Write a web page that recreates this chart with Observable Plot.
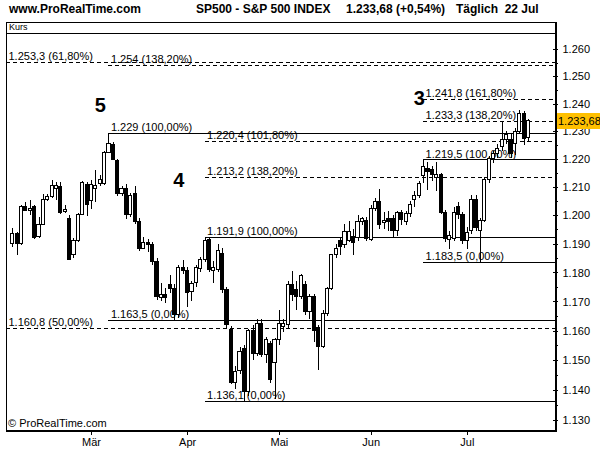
<!DOCTYPE html>
<html><head><meta charset="utf-8">
<script src="https://cdn.jsdelivr.net/npm/d3@7"></script>
<script src="https://cdn.jsdelivr.net/npm/@observablehq/plot@0.6"></script>
<style>
body{margin:0;background:#fff;}
#wrap{position:relative;width:600px;height:450px;overflow:hidden;font-family:"Liberation Sans",Arial,sans-serif;color:#000;}
#wrap svg{position:absolute;left:0;top:0;shape-rendering:crispEdges;}
#wrap svg text{shape-rendering:auto;}
.hdr{position:absolute;top:2px;font-weight:bold;font-size:12px;white-space:pre;line-height:14px;}
#frame{position:absolute;left:6px;top:22px;width:551px;height:410px;box-sizing:border-box;border:1px solid #000;border-right-width:2px;border-bottom-width:2px;pointer-events:none;}
#kurs{position:absolute;left:6px;top:22px;width:551px;height:12px;box-sizing:border-box;border-bottom:1px solid #000;font-size:9px;line-height:10px;padding-left:3px;}
#copy{position:absolute;left:8px;top:417px;font-size:11px;line-height:13px;}
#price{position:absolute;left:557px;width:43px;height:16px;background:#FFC000;font-size:11px;line-height:16px;text-align:left;padding-left:1px;box-sizing:border-box;}
</style></head>
<body><div id="wrap"></div>
<script>
// Daily S&P 500 candles (index 0 = first candle, last = 22 Jul)
const open  = [1190.0,1193.5,1190.0,1203.0,1201.5,1203.0,1192.7,1196.9,1205.6,1206.5,
               1209.4,1210.3,1201.2,1198.9,1186.1,1191.1,1200.4,1210.7,1205.1,1209.5,
               1211.1,1211.1,1222.3,1225.3,1219.6,1207.7,1209.5,1200.1,1207.5,1197.7,
               1188.4,1190.5,1189.6,1183.8,1171.5,1172.5,1176.0,1174.5,1165.4,1181.8,
               1180.8,1173.4,1176.5,1181.5,1184.4,1191.6,1180.8,1181.2,1186.6,1174.0,
               1160.5,1142.6,1146.7,1154.1,1139.5,1160.1,1152.3,1162.3,1151.8,1155.8,
               1149.2,1156.9,1161.6,1162.0,1175.9,1174.0,1171.7,1175.7,1166.5,1171.7,
               1161.0,1154.8,1165.8,1174.5,1186.1,1191.3,1189.6,1191.3,1192.6,1192.2,
               1197.7,1198.3,1191.6,1202.4,1204.8,1197.5,1198.9,1198.9,1194.5,1200.9,
               1197.8,1200.6,1205.4,1206.9,1214.0,1216.6,1216.2,1213.4,1214.3,1201.0,
               1191.5,1191.9,1203.2,1200.1,1191.2,1194.5,1205.4,1194.5,1198.3,1212.5,
               1220.2,1222.0,1224.6,1226.8,1227.0,1225.7,1229.8,1236.4,1227.6];
const high  = [1195.5,1194.0,1203.5,1204.7,1205.2,1203.5,1199.3,1207.5,1207.5,1212.5,
               1211.9,1211.6,1203.6,1200.0,1192.0,1200.8,1212.1,1211.8,1212.5,1216.0,
               1214.3,1223.0,1229.0,1226.1,1219.9,1210.4,1211.0,1208.0,1210.5,1199.0,
               1192.4,1191.5,1190.5,1185.0,1176.5,1174.5,1179.0,1176.0,1182.5,1184.5,
               1182.0,1177.0,1182.5,1185.5,1191.9,1191.9,1184.0,1190.0,1188.5,1175.0,
               1161.5,1148.0,1154.5,1155.0,1160.5,1162.0,1164.0,1164.0,1158.0,1156.5,
               1157.5,1167.0,1164.0,1177.0,1180.5,1177.0,1179.5,1177.0,1172.5,1172.5,
               1162.0,1167.0,1175.0,1186.5,1190.0,1192.0,1197.0,1198.0,1195.0,1200.0,
               1199.5,1199.5,1203.5,1206.0,1209.3,1201.0,1201.5,1200.0,1201.5,1202.0,
               1201.5,1205.0,1208.5,1212.0,1219.5,1218.9,1217.5,1219.0,1215.0,1202.0,
               1194.5,1203.0,1204.5,1201.0,1196.0,1207.0,1207.0,1199.0,1213.5,1221.0,
               1223.0,1225.5,1233.4,1230.0,1229.0,1231.0,1237.5,1237.4,1234.5];
const low   = [1189.0,1186.0,1189.5,1201.5,1200.0,1191.5,1192.0,1196.5,1205.0,1206.0,
               1205.3,1200.5,1200.9,1184.4,1185.0,1190.6,1200.3,1199.7,1202.2,1204.7,
               1210.3,1210.7,1222.0,1219.5,1206.8,1206.8,1198.5,1199.5,1197.0,1187.5,
               1188.0,1187.0,1182.5,1170.6,1170.0,1169.5,1173.0,1163.5,1164.5,1179.5,
               1168.0,1170.0,1175.0,1180.0,1183.5,1180.0,1176.5,1180.0,1173.0,1160.8,
               1142.0,1140.4,1145.5,1136.1,1138.0,1150.0,1151.5,1151.0,1149.0,1142.5,
               1137.0,1155.2,1159.5,1160.5,1170.0,1167.0,1171.0,1165.5,1164.0,1156.0,
               1146.6,1154.0,1165.0,1174.0,1185.0,1186.0,1188.5,1190.5,1186.0,1191.0,
               1196.5,1191.0,1191.0,1201.5,1195.0,1195.0,1194.5,1192.0,1192.6,1196.5,
               1196.5,1199.5,1203.0,1206.0,1211.5,1209.0,1212.0,1208.5,1200.5,1190.5,
               1188.0,1191.0,1198.5,1190.0,1188.0,1193.5,1194.5,1183.5,1197.5,1211.5,
               1218.5,1220.5,1223.0,1225.5,1220.5,1221.5,1229.0,1225.0,1226.0];
const close = [1193.5,1190.0,1203.1,1201.8,1202.5,1192.1,1196.9,1205.6,1206.5,1210.6,
               1210.6,1200.9,1202.1,1184.6,1191.3,1200.4,1211.7,1203.8,1210.7,1210.5,
               1212.7,1222.3,1225.6,1219.8,1207.5,1209.5,1200.1,1207.0,1197.8,1188.4,
               1190.5,1189.6,1183.8,1171.8,1172.5,1171.5,1174.5,1165.4,1181.8,1180.8,
               1173.2,1176.2,1181.8,1184.4,1191.0,1181.2,1181.6,1187.7,1174.0,1162.0,
               1142.6,1146.1,1153.0,1139.5,1160.1,1152.3,1162.3,1151.8,1156.9,1143.4,
               1157.0,1162.5,1162.3,1175.9,1172.4,1171.7,1178.9,1166.5,1171.7,1160.1,
               1154.8,1166.0,1174.5,1186.1,1188.4,1189.0,1194.4,1194.2,1190.4,1197.7,
               1198.9,1192.0,1202.4,1204.8,1196.6,1198.3,1197.8,1194.8,1201.0,1198.6,
               1200.6,1203.8,1206.9,1211.3,1217.2,1215.4,1214.6,1214.3,1201.0,1191.9,
               1192.8,1201.0,1200.1,1191.2,1193.9,1205.4,1195.6,1198.3,1212.5,1220.2,
               1222.0,1223.8,1226.8,1228.6,1222.0,1229.8,1236.4,1227.5,1233.68];

// x-axis: month names at the first candle of each month
const months = ["Mär","Apr","Mai","Jun","Jul"];
const monthStart = [18, 40, 61, 82, 104];

// y-axis ticks
const yTicks = [1130,1140,1150,1160,1170,1180,1190,1200,1210,1220,1230,1240,1250,1260];
const yMinor = [1135,1145,1155,1165,1175,1185,1195,1205,1215,1225,1235,1245,1255];

// horizontal level lines (Fibonacci)
const levelValue = [1255.1, 1254.2, 1241.5, 1233.6, 1229.4, 1226.6, 1219.8, 1213.4, 1192.2, 1183.5, 1163.6, 1161.0, 1136.3];
const levelLabel = ["1.253,3 (61,80%)","1.254 (138,20%)","1.241,8 (161,80%)","1.233,3 (138,20%)","1.229 (100,00%)",
                    "1.220,4 (101,80%)","1.219,5 (100,00%)","1.213,2 (138,20%)","1.191,9 (100,00%)","1.183,5 (0,00%)",
                    "1.163,5 (0,00%)","1.160,8 (50,00%)","1.136,1 (0,00%)"];
const levelStart = [null, 22, 94, 94, 22, 44, 94, 44, 44, 94, 22, null, 44];
const levelDashed = [true, true, true, true, false, true, false, true, false, false, false, true, false];

// Elliott wave labels
const waveLabel = ["5", "4", "3"];
const waveIdx = [20, 38, 93];
const waveVal = [1239.4, 1212.5, 1241.8];

const loc = d3.formatLocale({decimal: ",", thousands: ".", grouping: [3], currency: ["", ""]});
const fmtInt = loc.format(",");
const fmtPrice = loc.format(",.2f");

// layout
const W = 600, H = 450, MT = 23, MR = 43, MB = 19, ML = 6;
const xOpts = {type: "linear", domain: [0, close.length - 1], range: [12.3, 528]};
const yOpts = {type: "log", domain: [1130, 1260], range: [420, 49]};
const xScale = Plot.scale({x: xOpts});
const xEnd = xScale.invert(W - MR); // right frame edge in index units

const idx = d3.range(close.length);
const levels = levelValue.map((v, k) => ({value: v, label: levelLabel[k], start: levelStart[k], dashed: levelDashed[k]}));
const fullLv = levels.filter(d => d.start == null);
const partLv = levels.filter(d => d.start != null);
const waves = waveLabel.map((t, k) => ({t, i: waveIdx[k], v: waveVal[k]}));

const chart = Plot.plot({
  width: W, height: H,
  marginTop: MT, marginRight: MR, marginBottom: MB, marginLeft: ML,
  style: {fontFamily: "'Liberation Sans', Arial, sans-serif", fontSize: "11px", background: "transparent", overflow: "visible"},
  x: xOpts,
  y: yOpts,
  marks: [
    Plot.ruleY(fullLv.filter(d => d.dashed), {y: "value", stroke: "#000", strokeDasharray: "4,3"}),
    Plot.ruleY(partLv.filter(d => d.dashed), {y: "value", x1: "start", x2: () => xEnd, stroke: "#000", strokeDasharray: "4,3"}),
    Plot.ruleY(partLv.filter(d => !d.dashed), {y: "value", x1: "start", x2: () => xEnd, stroke: "#000"}),
    Plot.text(fullLv, {y: "value", text: "label", frameAnchor: "left", textAnchor: "start", dx: 2, dy: -6, fill: "#000"}),
    Plot.text(partLv, {y: "value", x: "start", text: "label", textAnchor: "start", dx: 2, dy: -6, fill: "#000"}),
    Plot.ruleX(idx, {x: i => i, y1: i => low[i], y2: i => high[i], stroke: "#000"}),
    Plot.rect(idx, {
      x1: i => i - 0.36, x2: i => i + 0.36,
      y1: i => Math.min(open[i], close[i]), y2: i => Math.max(open[i], close[i]),
      fill: i => close[i] >= open[i] ? "#fff" : "#000", stroke: "#000"
    }),
    Plot.text(waves, {x: "i", y: "v", text: "t", fontSize: 20, fontWeight: "bold", fill: "#000"}),
    Plot.axisX({ticks: monthStart, tickFormat: d => months[monthStart.indexOf(d)], tickSize: 4, tickPadding: 3, anchor: "bottom", fontSize: 11}),
    Plot.axisY({anchor: "right", ticks: yTicks, tickSize: 5, dx: -5, tickFormat: () => ""}),
    Plot.axisY({anchor: "right", ticks: yMinor, tickSize: 3, dx: -3, tickFormat: () => ""}),
    Plot.axisY({anchor: "right", ticks: yTicks, tickSize: 0, tickPadding: 5, tickFormat: fmtInt, fontSize: 11})
  ]
});

const wrap = document.getElementById("wrap");
wrap.appendChild(chart);

function addDiv(cls, id, text, left) {
  const d = document.createElement("div");
  if (cls) d.className = cls;
  if (id) d.id = id;
  d.textContent = text;
  if (left != null) d.style.left = left + "px";
  wrap.appendChild(d);
  return d;
}
addDiv("hdr", null, "www.ProRealTime.com", 9);
addDiv("hdr", null, "SP500 - S&P 500 INDEX", 196);
addDiv("hdr", null, fmtPrice(close[close.length - 1]) + " (+0,54%)", 346);
addDiv("hdr", null, "Täglich  22 Jul", 456);
addDiv(null, "frame", "", null);
addDiv(null, "kurs", "Kurs", null);
addDiv(null, "copy", "© ProRealTime.com", null);
const p = addDiv(null, "price", fmtPrice(close[close.length - 1]), null);
p.style.top = (chart.scale("y").apply(close[close.length - 1]) - 8) + "px";
</script>
</body></html>
